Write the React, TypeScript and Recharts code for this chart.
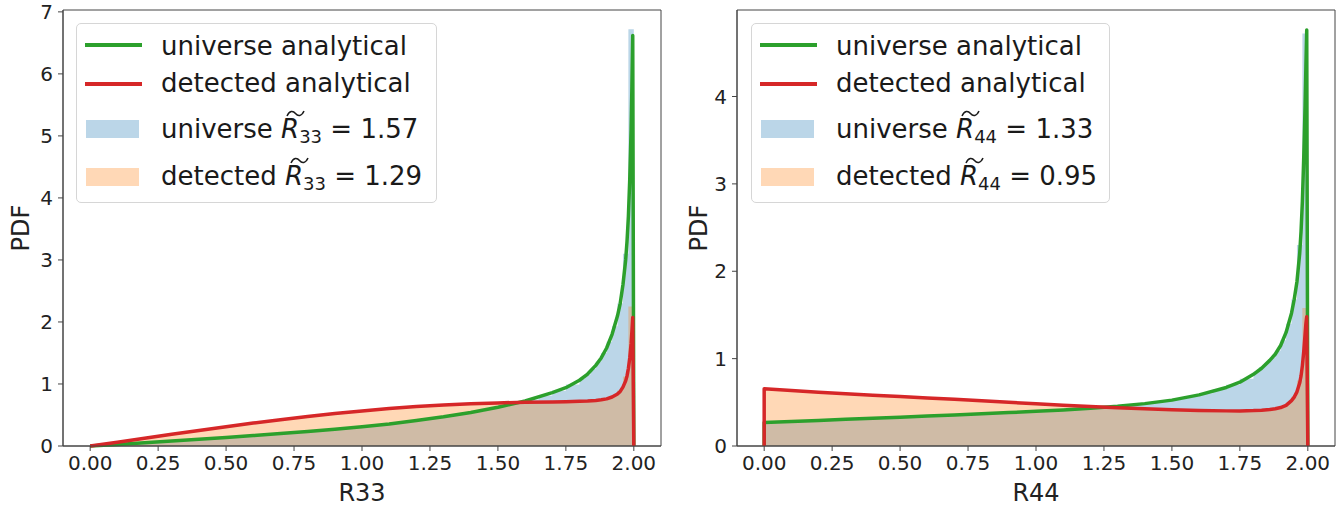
import { ComposedChart, Area, Line, XAxis, YAxis, ReferenceArea } from 'recharts';

const FONT = "'DejaVu Sans', sans-serif";
const GREEN = '#2ca02c';
const RED = '#d62728';
const BLUE = '#1f77b4';
const ORANGE = '#ff7f0e';

const xTicks = [0, 0.25, 0.5, 0.75, 1, 1.25, 1.5, 1.75, 2];
const r33YTicks = [0, 1, 2, 3, 4, 5, 6, 7];
const r44YTicks = [0, 1, 2, 3, 4];

// histogram bin edges: 0.05 wide up to 1.8, 0.02 wide near the spike at 2
const binEdges = [
  0, 0.05, 0.1, 0.15, 0.2, 0.25, 0.3, 0.35, 0.4, 0.45, 0.5, 0.55, 0.6, 0.65, 0.7, 0.75, 0.8, 0.85, 0.9, 0.95,
  1, 1.05, 1.1, 1.15, 1.2, 1.25, 1.3, 1.35, 1.4, 1.45, 1.5, 1.55, 1.6, 1.65, 1.7, 1.75, 1.8,
  1.82, 1.84, 1.86, 1.88, 1.9, 1.92, 1.94, 1.96, 1.98, 2,
];

// ---- R33 panel ----
const r33UniverseHist = [
  0.006, 0.018, 0.032, 0.046, 0.06, 0.073, 0.087, 0.101, 0.116, 0.131,
  0.146, 0.161, 0.176, 0.192, 0.208, 0.225, 0.243, 0.261, 0.28, 0.3,
  0.32, 0.343, 0.368, 0.396, 0.425, 0.456, 0.49, 0.527, 0.556, 0.598,
  0.645, 0.695, 0.75, 0.815, 0.89, 0.99,
  1.08, 1.15, 1.24, 1.36, 1.5, 1.68, 1.93, 2.3, 3.1, 6.72,
];
const r33DetectedHist = [
  0.015, 0.045, 0.077, 0.108, 0.14, 0.172, 0.203, 0.233, 0.263, 0.293,
  0.323, 0.352, 0.381, 0.408, 0.435, 0.46, 0.485, 0.51, 0.533, 0.555,
  0.575, 0.595, 0.613, 0.628, 0.642, 0.655, 0.665, 0.675, 0.683, 0.69,
  0.697, 0.702, 0.706, 0.709, 0.712, 0.716,
  0.72, 0.725, 0.73, 0.74, 0.755, 0.78, 0.82, 0.9, 1.12, 2.25,
];
const r33CurveX = [
  0, 0.1, 0.2, 0.3, 0.4, 0.5, 0.6, 0.7, 0.8, 0.9, 1, 1.1, 1.2, 1.3, 1.4, 1.5, 1.6, 1.7,
  1.75, 1.8, 1.83, 1.86, 1.88, 1.9, 1.92, 1.94, 1.95, 1.96, 1.97, 1.975, 1.98, 1.985, 1.99, 1.993, 1.996, 2,
];
const r33UniverseCurve = [
  0, 0.025, 0.052, 0.08, 0.108, 0.138, 0.168, 0.2, 0.235, 0.27, 0.31, 0.355, 0.41, 0.47, 0.54, 0.625, 0.725, 0.86,
  0.94, 1.06, 1.16, 1.3, 1.42, 1.58, 1.8, 2.1, 2.3, 2.6, 3.0, 3.3, 3.7, 4.3, 5.1, 5.8, 6.62, 0,
];
const r33DetectedCurve = [
  0, 0.06, 0.125, 0.19, 0.25, 0.31, 0.37, 0.425, 0.475, 0.525, 0.565, 0.605, 0.635, 0.66, 0.68, 0.695, 0.705, 0.71,
  0.715, 0.72, 0.725, 0.735, 0.745, 0.76, 0.79, 0.84, 0.88, 0.95, 1.05, 1.13, 1.25, 1.42, 1.65, 1.85, 2.07, 0,
];

// ---- R44 panel ----
const r44UniverseHist = [
  0.27, 0.275, 0.281, 0.287, 0.293, 0.299, 0.305, 0.311, 0.317, 0.323,
  0.329, 0.335, 0.341, 0.347, 0.353, 0.359, 0.365, 0.371, 0.378, 0.385,
  0.4, 0.408, 0.418, 0.426, 0.437, 0.448, 0.462, 0.475, 0.495, 0.515,
  0.538, 0.57, 0.605, 0.65, 0.7, 0.77,
  0.85, 0.9, 0.95, 1.01, 1.09, 1.21, 1.4, 1.68, 2.3, 4.72,
];
const r44DetectedHist = [
  0.642, 0.632, 0.622, 0.612, 0.603, 0.594, 0.586, 0.578, 0.57, 0.562,
  0.554, 0.546, 0.538, 0.53, 0.522, 0.513, 0.505, 0.496, 0.488, 0.479,
  0.471, 0.463, 0.455, 0.448, 0.44, 0.433, 0.427, 0.42, 0.414, 0.409,
  0.405, 0.401, 0.398, 0.395, 0.394, 0.395,
  0.398, 0.402, 0.408, 0.418, 0.432, 0.455, 0.495, 0.565, 0.75, 1.58,
];
const r44CurveX = [
  0, 0, 0.1, 0.2, 0.3, 0.4, 0.5, 0.6, 0.7, 0.8, 0.9, 1, 1.1, 1.2, 1.3, 1.4, 1.5, 1.6, 1.7,
  1.75, 1.8, 1.83, 1.86, 1.88, 1.9, 1.92, 1.94, 1.95, 1.96, 1.97, 1.975, 1.98, 1.985, 1.99, 1.993, 1.996, 2,
];
const r44UniverseCurve = [
  0, 0.27, 0.28, 0.293, 0.305, 0.318, 0.33, 0.342, 0.355, 0.368, 0.382, 0.397, 0.413, 0.432, 0.455, 0.485, 0.525, 0.585, 0.67,
  0.73, 0.82, 0.89, 0.98, 1.05, 1.15, 1.3, 1.52, 1.68, 1.88, 2.2, 2.45, 2.8, 3.3, 3.9, 4.35, 4.76, 0,
];
const r44DetectedCurve = [
  0, 0.655, 0.635, 0.615, 0.598, 0.582, 0.566, 0.55, 0.534, 0.517, 0.5, 0.483, 0.467, 0.452, 0.438, 0.425, 0.415, 0.407, 0.402,
  0.402, 0.405, 0.41, 0.418, 0.427, 0.44, 0.465, 0.52, 0.56, 0.62, 0.72, 0.8, 0.92, 1.08, 1.28, 1.4, 1.48, 0,
];

const toSteps = (heights: number[]) => binEdges.map((x, i) => ({ x, y: i < heights.length ? heights[i] : 0 }));
const toPoints = (xs: number[], ys: number[]) => xs.map((x, i) => ({ x, y: ys[i] }));

const tickStyle = { fontSize: 20, fill: '#222', fontFamily: FONT };
const axisColor = '#444';

type PanelProps = {
  left: number;
  width: number;
  marginRight: number;
  yAxisWidth: number;
  yMax: number;
  yTicks: number[];
  xLabel: string;
  pdfOffset: number;
  universeHist: number[];
  detectedHist: number[];
  curveX: number[];
  universeCurve: number[];
  detectedCurve: number[];
};

function Panel(p: PanelProps) {
  return (
    <div style={{ position: 'absolute', left: p.left, top: 0 }}>
      <ComposedChart width={p.width} height={506} margin={{ top: 10, right: p.marginRight, bottom: 0, left: 0 }}>
        <XAxis
          dataKey="x"
          type="number"
          domain={[-0.1, 2.1]}
          ticks={xTicks}
          tickFormatter={(v: number) => v.toFixed(2)}
          height={60}
          tick={tickStyle}
          tickSize={5}
          tickMargin={5}
          stroke={axisColor}
          label={{ value: p.xLabel, position: 'insideBottom', offset: 5, fontSize: 24, fill: '#222', fontFamily: FONT }}
        />
        <YAxis
          type="number"
          domain={[0, p.yMax]}
          ticks={p.yTicks}
          width={p.yAxisWidth}
          tick={tickStyle}
          tickSize={5}
          tickMargin={5}
          stroke={axisColor}
          label={{
            value: 'PDF',
            angle: -90,
            position: 'insideLeft',
            offset: p.pdfOffset,
            fontSize: 24,
            fill: '#222',
            fontFamily: FONT,
            style: { textAnchor: 'middle' },
          }}
        />
        <Area data={toSteps(p.universeHist)} dataKey="y" type="stepAfter" fill={BLUE} fillOpacity={0.3} stroke="none" isAnimationActive={false} />
        <Area data={toSteps(p.detectedHist)} dataKey="y" type="stepAfter" fill={ORANGE} fillOpacity={0.3} stroke="none" isAnimationActive={false} />
        <Line data={toPoints(p.curveX, p.universeCurve)} dataKey="y" type="linear" stroke={GREEN} strokeWidth={3.5} dot={false} activeDot={false} strokeLinejoin="round" isAnimationActive={false} />
        <Line data={toPoints(p.curveX, p.detectedCurve)} dataKey="y" type="linear" stroke={RED} strokeWidth={3.5} dot={false} activeDot={false} strokeLinejoin="round" isAnimationActive={false} />
        {/* frame: matplotlib draws all four spines */}
        <ReferenceArea x1={-0.1} x2={2.1} y1={0} y2={p.yMax} fill="none" stroke={axisColor} strokeWidth={1} />
      </ComposedChart>
    </div>
  );
}

// wide tilde over the italic R, drawn as a small path so it sits above the letter
function WideTilde() {
  return (
    <svg width={19} height={7} style={{ position: 'absolute', left: 5, top: -4 }}>
      <path d="M1,6 C3.5,0.5 7,0.5 9.5,3.5 S15.5,6.5 18,1" fill="none" stroke="#1a1a1a" strokeWidth={1.5} />
    </svg>
  );
}

function LegendBox({ left, width, sub, uniVal, detVal }: { left: number; width: number; sub: string; uniVal: string; detVal: string }) {
  const mathR = (
    <>
      <span style={{ position: 'relative', fontStyle: 'italic' }}>
        R
        <WideTilde />
      </span>
      <span style={{ position: 'relative', top: 5, fontSize: 18 }}>{sub}</span>
    </>
  );
  const row = (top: number): React.CSSProperties => ({ position: 'absolute', left: 84, top, whiteSpace: 'nowrap' });
  return (
    <div
      style={{
        position: 'absolute',
        left,
        top: 23,
        width,
        height: 180,
        boxSizing: 'border-box',
        border: '1px solid #d6d6d6',
        borderRadius: 5,
        background: 'rgba(255,255,255,0.8)',
        fontFamily: FONT,
        fontSize: 26,
        lineHeight: '26px',
        color: '#1a1a1a',
      }}
    >
      <div style={{ position: 'absolute', left: 8, top: 19, width: 57, height: 3.5, background: GREEN }} />
      <div style={{ position: 'absolute', left: 8, top: 58, width: 57, height: 3.5, background: RED }} />
      <div style={{ position: 'absolute', left: 9, top: 96, width: 53, height: 18, background: BLUE, opacity: 0.3 }} />
      <div style={{ position: 'absolute', left: 9, top: 144, width: 53, height: 18, background: ORANGE, opacity: 0.3 }} />
      <div style={row(9)}>universe analytical</div>
      <div style={row(46)}>detected analytical</div>
      <div style={row(92)}>
        universe {mathR} = {uniVal}
      </div>
      <div style={row(139)}>
        detected {mathR} = {detVal}
      </div>
    </div>
  );
}

export default function App() {
  return (
    <div style={{ position: 'absolute', left: 0, top: 0, width: 1343, height: 506, background: '#fff' }}>
      <Panel
        left={0}
        width={680}
        marginRight={19}
        yAxisWidth={63}
        yMax={7.03}
        yTicks={r33YTicks}
        xLabel="R33"
        pdfOffset={20}
        universeHist={r33UniverseHist}
        detectedHist={r33DetectedHist}
        curveX={r33CurveX}
        universeCurve={r33UniverseCurve}
        detectedCurve={r33DetectedCurve}
      />
      <Panel
        left={680}
        width={663}
        marginRight={8}
        yAxisWidth={57}
        yMax={4.99}
        yTicks={r44YTicks}
        xLabel="R44"
        pdfOffset={18}
        universeHist={r44UniverseHist}
        detectedHist={r44DetectedHist}
        curveX={r44CurveX}
        universeCurve={r44UniverseCurve}
        detectedCurve={r44DetectedCurve}
      />
      <LegendBox left={76} width={361} sub="33" uniVal="1.57" detVal="1.29" />
      <LegendBox left={751} width={359} sub="44" uniVal="1.33" detVal="0.95" />
    </div>
  );
}
